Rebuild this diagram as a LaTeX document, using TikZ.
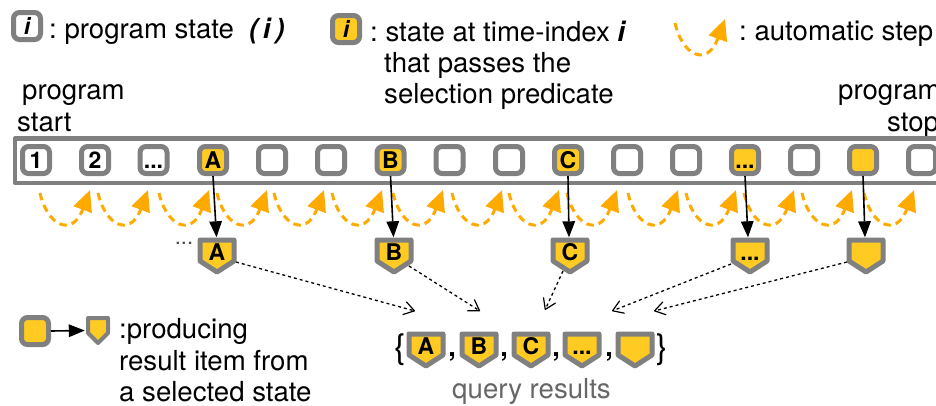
\documentclass[tikz,border=0pt]{standalone}
\usepackage{fontspec}
\setmainfont{TeX Gyre Heros}
\usetikzlibrary{arrows.meta}
\definecolor{tilegrey}{HTML}{808080}
\definecolor{tileyellow}{HTML}{FFCB22}
\definecolor{steporange}{HTML}{FFAA00}
\frenchspacing
\newcommand{\lbl}[1]{\fontsize{27.6}{32}\selectfont #1}
\newcommand{\mrk}[1]{\fontsize{23}{23}\selectfont\bfseries #1}
\tikzset{
  statebox/.style={draw=tilegrey,line width=5pt,rounded corners=6pt,minimum size=27pt,inner sep=0pt,fill=white,font=\mrk{},text height=16pt,text depth=0pt},
  selected/.style={statebox,fill=tileyellow},
  resultshape/.style={draw=tilegrey,line width=5pt,fill=tileyellow,line join=round},
  resultbox/.style={minimum width=39pt,minimum height=37pt,inner sep=0pt,font=\mrk{},text height=8pt,text depth=0pt},
  lab/.style={anchor=base west,inner sep=0pt,font=\lbl{}},
  autostep/.style={draw=steporange,line width=3pt,dash pattern=on 7.5pt off 5pt,-{Triangle[length=21pt,width=19pt,fill=steporange]}},
  produce/.style={draw=black,line width=1.6pt,-{Triangle[length=16pt,width=12.5pt]}},
  collect/.style={draw=black,line width=1.3pt,dash pattern=on 3pt off 3pt,-{Straight Barb[length=10pt,width=13pt,line width=1.2pt,round]}},
}
\newcommand{\shieldnode}[4]{%
  \path[resultshape] (#2-17,#3-16) -- (#2+17,#3-16) -- (#2+17,#3+5) -- (#2,#3+16) -- (#2-17,#3+5) -- cycle;
  \node[resultbox] (#1) at (#2,#3) {#4};}
\begin{document}
\begin{tikzpicture}[x=1pt,y=-1pt]
\useasboundingbox (0,0) rectangle (936,405);
\clip (0,0) rectangle (936,405);
% legend row
\node[statebox] (legendplain) at (27,26) {\itshape i};
\node[lab] (legendplaintext) at (49,38) {: program state};
\node[lab,font=\lbl{\bfseries\itshape}] (legendindex) at (249,38) {(\,i\,)};
\node[selected] (legendsel) at (346,29) {\itshape i};
\node[lab] (legendseltext1) at (370,41) {: state at time-index \textbf{\itshape i}};
\node[lab] (legendseltext2) at (384,72) {that passes the};
\node[lab] (legendseltext3) at (384,103) {selection predicate};
\coordinate (legendstepa) at (675,23);
\coordinate (legendstepb) at (725,19);
\draw[autostep] (legendstepa) .. controls (682,55) and (707,68) .. (legendstepb);
\node[lab] (legendsteptext) at (739,40) {: automatic step};
\node[lab] (startlabel1) at (22,99) {program};
\node[lab] (startlabel2) at (17,131) {start};
\node[lab] (stoplabel1) at (838,99) {program};
\node[lab] (stoplabel2) at (887,131) {stop};
% timeline frame
\draw[tilegrey,line width=4.5pt,line join=round] (960,138.5) -- (15,138.5) -- (15,183) -- (960,183);
% states
\node[statebox] (s1) at (36,160) {1};
\node[statebox] (s2) at (95,160) {2};
\node[statebox] (s3) at (153.5,160) {...};
\node[selected] (s4) at (213,160) {A};
\node[statebox] (s5) at (272,160) {};
\node[statebox] (s6) at (331,160) {};
\node[selected] (s7) at (390.5,160) {B};
\node[statebox] (s8) at (449.5,160) {};
\node[statebox] (s9) at (509,160) {};
\node[selected] (s10) at (568,160) {C};
\node[statebox] (s11) at (627,160) {};
\node[statebox] (s12) at (686,160) {};
\node[selected] (s13) at (745,160) {...};
\node[statebox] (s14) at (804,160) {};
\node[selected] (s15) at (863,160) {};
\node[statebox] (s16) at (922,160) {};
% automatic steps
\foreach \i/\x in {1/40,2/98,3/159,4/217,5/274,6/332,7/393,8/452,9/509,10/567,11/628,12/686,13/744,14/802,15/864}{
  \coordinate (stepa\i) at (\x,193);
  \coordinate (stepb\i) at (\x+50,190);
  \draw[autostep] (stepa\i) .. controls (\x+7,225) and (\x+32,238) .. (stepb\i);
}
% results
\node[anchor=base,inner sep=0pt,font=\fontsize{22}{22}\selectfont,text=black!70] (moredots) at (184,244) {...};
\shieldnode{ra}{217}{256}{A}
\shieldnode{rb}{394}{256}{B}
\shieldnode{rc}{570}{256}{C}
\shieldnode{rd}{750}{256}{...}
\shieldnode{re}{866}{256}{}
\draw[produce] (s4.south) -- ([xshift=-0.5pt]ra.north);
\draw[produce] (s7.south) -- ([xshift=-0.5pt]rb.north);
\draw[produce] (s10.south) -- ([xshift=-1pt]rc.north);
\draw[produce] (s13.south) -- ([xshift=-2pt]rd.north);
\draw[produce] (s15.south) -- ([xshift=-1pt]re.north);
% query results
\node[anchor=base,inner sep=0pt,font=\fontsize{34}{34}\selectfont] (lbrace) at (400,358) {\{};
\shieldnode{qa}{426}{350}{A}
\node[anchor=base,inner sep=0pt,font=\fontsize{27}{27}\selectfont\bfseries] (c1) at (452,356) {,};
\shieldnode{qb}{479}{350}{B}
\node[anchor=base,inner sep=0pt,font=\fontsize{27}{27}\selectfont\bfseries] (c2) at (504,356) {,};
\shieldnode{qc}{531}{350}{C}
\node[anchor=base,inner sep=0pt,font=\fontsize{27}{27}\selectfont\bfseries] (c3) at (556,356) {,};
\shieldnode{qd}{582}{350}{...}
\node[anchor=base,inner sep=0pt,font=\fontsize{27}{27}\selectfont\bfseries] (c4) at (609,356) {,};
\shieldnode{qe}{635}{350}{}
\node[anchor=base,inner sep=0pt,font=\fontsize{34}{34}\selectfont] (rbrace) at (662,358) {\}};
\node[lab,text=black!60] (querylabel) at (452,398) {query results};
\coordinate (ta) at (415,311);
\coordinate (tb) at (480,311);
\coordinate (tc) at (545,310);
\coordinate (td) at (612,311);
\coordinate (te) at (654,311);
\draw[collect] ([shift={(19,6)}]ra.center) -- (ta);
\draw[collect] ([shift={(15,10)}]rb.center) -- (tb);
\draw[collect] ([shift={(-7,15)}]rc.center) -- (tc);
\draw[collect] ([shift={(-19,8)}]rd.center) -- (td);
\draw[collect] ([shift={(-19,6)}]re.center) -- (te);
% bottom legend
\node[selected] (keybox) at (35,331) {};
\path[resultshape,line width=4pt] (88,318) -- (108,318) -- (108,333) -- (98,343) -- (88,333) -- cycle;
\node[inner sep=0pt,minimum width=24pt,minimum height=29pt] (keyshield) at (98,330.5) {};
\draw[produce] (keybox.east) -- ([xshift=-1pt]keyshield.west);
\node[lab] (keytext1) at (119,338) {:producing};
\node[lab] (keytext2) at (119,370) {result item from};
\node[lab] (keytext3) at (119,401) {a selected state};
\end{tikzpicture}
\end{document}
